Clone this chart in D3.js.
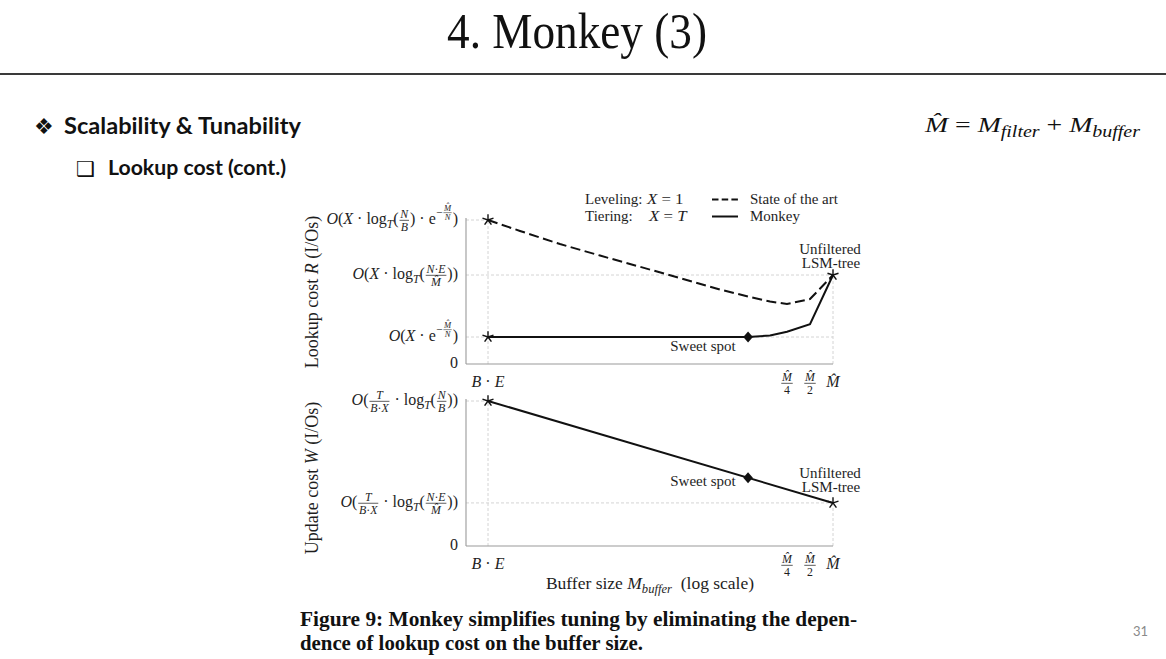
<!DOCTYPE html>
<html><head><meta charset="utf-8">
<script src="https://cdn.jsdelivr.net/npm/d3@7/dist/d3.min.js"></script>
<style>
html,body{margin:0;padding:0;background:#fff;}
svg{display:block;}
text{white-space:pre;}
</style></head><body>
<svg id="c" width="1166" height="659"></svg>
<script>
// ---------------- math token helpers ----------------
const R = s => ({k:'t', s, it:false});
const I = s => ({k:'t', s, it:true});
const sub = (...c) => ({k:'sub', c});
const sup = (...c) => ({k:'sup', c});
const frac = (n, d) => ({k:'frac', n, d});
const MH = "M\u0302";

// ---------------- data ----------------
const BE = Math.pow(2, -15);                       // buffer size B·E as fraction of M̂
const xTickValues = [BE, 0.25, 0.5, 1];
const xTickLabels = [
  [I("B"), R(" · "), I("E")],
  [frac([I(MH)], [R("4")])],
  [frac([I(MH)], [R("2")])],
  [I(MH)]
];

const lookupTickValues = [0, 0.1875, 0.618, 1];
const lookupTickLabels = [
  [R("0")],
  [I("O"), R("("), I("X"), R(" · e"), sup(R("−"), frac([I(MH)], [I("N")])), R(")")],
  [I("O"), R("("), I("X"), R(" · log"), sub(I("T")), R("("), frac([I("N"), R("·"), I("E")], [I(MH)]), R("))")],
  [I("O"), R("("), I("X"), R(" · log"), sub(I("T")), R("("), frac([I("N")], [I("B")]), R(") · e"), sup(R("−"), frac([I(MH)], [I("N")])), R(")")]
];

const updateTickValues = [0, 0.297, 1];
const updateTickLabels = [
  [R("0")],
  [I("O"), R("("), frac([I("T")], [I("B"), R("·"), I("X")]), R(" · log"), sub(I("T")), R("("), frac([I("N"), R("·"), I("E")], [I(MH)]), R("))")],
  [I("O"), R("("), frac([I("T")], [I("B"), R("·"), I("X")]), R(" · log"), sub(I("T")), R("("), frac([I("N")], [I("B")]), R("))")]
];

// State of the art lookup cost (dashed)
const stateBuffer = [BE, 8.0e-5, 2.67e-4, 8.92e-4, 2.98e-3, 9.96e-3, 0.0333, 0.082, 0.15, 0.25, 0.5, 1];
const stateLookup = [1.000, 0.924, 0.833, 0.753, 0.675, 0.597, 0.517, 0.465, 0.434, 0.417, 0.451, 0.618];
// Monkey lookup cost (solid)
const monkeyBuffer = [BE, 0.01, 0.0773, 0.15, 0.25, 0.5, 1];
const monkeyLookup = [0.1875, 0.1875, 0.1875, 0.198, 0.224, 0.276, 0.618];
// Update cost (solid)
const updateBuffer = [BE, 1];
const updateCost = [1, 0.297];
// Sweet spot
const sweetBuffer = 0.0773;
const sweetLookup = 0.1875;
const sweetUpdate = 0.47;
// Star markers
const lookupStars = [[BE, 1], [BE, 0.1875], [1, 0.618]];
const updateStars = [[BE, 1], [1, 0.297]];

const legendItems = [
  {name: "State of the art", dash: true},
  {name: "Monkey", dash: false}
];
const legendNotes = [
  {word: "Leveling:", math: [I("X"), R(" = 1")]},
  {word: "Tiering:", math: [I("X"), R(" = "), I("T")]}
];

// ---------------- rendering ----------------
const svg = d3.select('#c');
const SERIF = "'Liberation Serif','Times New Roman',serif";
const SANS = "Lato,'Open Sans','Noto Sans',sans-serif";
const INK = "#1e1e1e";

function render(g, toks, x, base, size) {
  const x0 = x;
  toks.forEach(tok => {
    if (tok.k === 't') {
      const t = g.append('text').attr('x', x).attr('y', base).attr('font-size', size)
        .attr('font-style', tok.it ? 'italic' : 'normal').text(tok.s);
      x += t.node().getComputedTextLength();
    } else if (tok.k === 'sub') {
      x += render(g, tok.c, x, base + 0.24 * size, size * 0.72);
    } else if (tok.k === 'sup') {
      const hasFrac = tok.c.some(c => c.k === 'frac');
      x += render(g, tok.c, x + 0.03 * size, base - (hasFrac ? 0.55 : 0.38) * size, size * 0.72) + 0.05 * size;
    } else if (tok.k === 'frac') {
      const s2 = size * 0.74;
      const gn = g.append('g'), gd = g.append('g');
      const wn = render(gn, tok.n, 0, base - 0.41 * size, s2);
      const wd = render(gd, tok.d, 0, base + 0.39 * size, s2);
      const fw = Math.max(wn, wd) + 0.22 * size;
      gn.attr('transform', `translate(${x + (fw - wn) / 2},0)`);
      gd.attr('transform', `translate(${x + (fw - wd) / 2},0)`);
      g.append('line').attr('x1', x + 0.06 * size).attr('x2', x + fw - 0.06 * size)
        .attr('y1', base - 0.25 * size).attr('y2', base - 0.25 * size)
        .attr('stroke', INK).attr('stroke-width', Math.max(0.5, 0.045 * size));
      x += fw;
    }
  });
  return x - x0;
}

function mathLabel(toks, size, px, py, align, opts = {}) {
  const outer = svg.append('g').attr('font-family', opts.family || SERIF).attr('fill', opts.fill || INK);
  const inner = outer.append('g');
  const w = render(inner, toks, 0, 0, size);
  const sx = opts.width ? opts.width / w : (opts.sx || 1);
  const ww = w * sx;
  let tx = px;
  if (align === 'end') tx = px - ww;
  else if (align === 'middle') tx = px - ww / 2;
  if (opts.rotate) {
    outer.attr('transform', `translate(${px},${py}) rotate(-90) translate(${-w / 2},0)`);
  } else {
    outer.attr('transform', `translate(${tx},${py}) scale(${sx},1)`);
  }
  return outer;
}

// ---------- slide chrome ----------
{
  const g = svg.append('g').attr('transform', 'translate(577,48)');
  const t = g.append('text').attr('font-family', SERIF).attr('font-size', 51).attr('fill', '#111')
    .attr('text-anchor', 'middle').text("4. Monkey (3)");
  const w = t.node().getComputedTextLength();
  g.attr('transform', `translate(577,48) scale(${260 / w},1)`);
}
svg.append('line').attr('x1', 0).attr('x2', 1166).attr('y1', 74).attr('y2', 74)
  .attr('stroke', '#3a3a3a').attr('stroke-width', 2.2);

svg.append('text').attr('x', 34).attr('y', 134).attr('font-family', "'DejaVu Sans'")
  .attr('font-size', 22).attr('fill', '#111').text("❖");
svg.append('text').attr('x', 64).attr('y', 134).attr('font-family', SANS).attr('font-weight', 'bold')
  .attr('font-size', 22).attr('fill', '#111').attr('textLength', 237).attr('lengthAdjust', 'spacingAndGlyphs')
  .text("Scalability & Tunability");
svg.append('text').attr('x', 76).attr('y', 176).attr('font-family', "'DejaVu Sans'")
  .attr('font-size', 21).attr('fill', '#111').text("❑");
svg.append('text').attr('x', 108).attr('y', 175).attr('font-family', SANS).attr('font-weight', 'bold')
  .attr('font-size', 21).attr('fill', '#111').attr('textLength', 178).attr('lengthAdjust', 'spacingAndGlyphs')
  .text("Lookup cost (cont.)");

mathLabel([I(MH), R(" = "), I("M"), sub(I("filter")), R(" + "), I("M"), sub(I("buffer"))],
  22, 925, 132, 'start', {width: 215, fill: '#111'});

svg.append('text').attr('x', 1133).attr('y', 636).attr('font-family', SANS).attr('font-size', 13)
  .attr('fill', '#8a8a8a').text("31");

svg.append('text').attr('x', 300).attr('y', 626).attr('font-family', SERIF).attr('font-weight', 'bold')
  .attr('font-size', 22).attr('fill', '#111').attr('textLength', 557).attr('lengthAdjust', 'spacingAndGlyphs')
  .text("Figure 9: Monkey simplifies tuning by eliminating the depen-");
svg.append('text').attr('x', 300).attr('y', 650).attr('font-family', SERIF).attr('font-weight', 'bold')
  .attr('font-size', 22).attr('fill', '#111').attr('textLength', 343).attr('lengthAdjust', 'spacingAndGlyphs')
  .text("dence of lookup cost on the buffer size.");

// ---------- chart ----------
const x = d3.scaleLog().domain([BE, 1]).range([488, 833]);
const yL = d3.scaleLinear().domain([0, 1]).range([364, 220]);
const yU = d3.scaleLinear().domain([0, 1]).range([546, 401]);
const axisX = x.range()[0] - 22;

const GRID = '#cfcfcf';
function seg(x1, y1, x2, y2, color, w, dash) {
  const l = svg.append('line').attr('x1', x1).attr('y1', y1).attr('x2', x2).attr('y2', y2)
    .attr('stroke', color).attr('stroke-width', w);
  if (dash) l.attr('stroke-dasharray', dash);
  return l;
}

function panel(y, guidesH, guidesV) {
  guidesH.forEach(([v, xe]) => seg(axisX, y(v), x(xe), y(v), GRID, 0.9, '3,2'));
  guidesV.forEach(([xv, v]) => seg(x(xv), y(0), x(xv), y(v), GRID, 0.9, '3,2'));
  seg(axisX, y(0), x(1), y(0), '#9a9a9a', 1.1);
  seg(axisX, y(0), axisX, y(1) - 2, '#9a9a9a', 1.1);
}

panel(yL, [[1, BE], [0.618, 1], [0.1875, 1]], [[BE, 1], [1, 0.618]]);
panel(yU, [[1, BE], [0.297, 1]], [[BE, 1], [1, 0.297]]);

const lineL = d3.line().x(d => x(d[0])).y(d => yL(d[1]));
const lineU = d3.line().x(d => x(d[0])).y(d => yU(d[1]));

svg.append('path').attr('d', lineL(d3.zip(stateBuffer, stateLookup)))
  .attr('fill', 'none').attr('stroke', '#111').attr('stroke-width', 2).attr('stroke-dasharray', '10,4.5');
svg.append('path').attr('d', lineL(d3.zip(monkeyBuffer, monkeyLookup)))
  .attr('fill', 'none').attr('stroke', '#111').attr('stroke-width', 2);
svg.append('path').attr('d', lineU(d3.zip(updateBuffer, updateCost)))
  .attr('fill', 'none').attr('stroke', '#111').attr('stroke-width', 2);

function star(cx, cy) {
  const r = 5.8;
  for (let k = 0; k < 5; k++) {
    const a = -Math.PI / 2 + k * 2 * Math.PI / 5;
    seg(cx, cy, cx + r * Math.cos(a), cy + r * Math.sin(a), '#111', 1.4);
  }
}
function diamond(cx, cy) {
  svg.append('path').attr('d', `M${cx},${cy - 5.5}L${cx + 4.8},${cy}L${cx},${cy + 5.5}L${cx - 4.8},${cy}Z`)
    .attr('fill', '#111');
}
lookupStars.forEach(d => star(x(d[0]), yL(d[1])));
updateStars.forEach(d => star(x(d[0]), yU(d[1])));
diamond(x(sweetBuffer), yL(sweetLookup));
diamond(x(sweetBuffer), yU(sweetUpdate));

// tick labels
const TS = 16;
lookupTickValues.forEach((v, i) => mathLabel(lookupTickLabels[i], TS, 458, yL(v) + 0.27 * TS, 'end'));
updateTickValues.forEach((v, i) => mathLabel(updateTickLabels[i], TS, 458, yU(v) + 0.27 * TS, 'end'));
[yL, yU].forEach(y => {
  xTickValues.forEach((v, i) => {
    const base = y(0) + 19 + 0.27 * TS;
    mathLabel(xTickLabels[i], TS, x(v), base, 'middle');
  });
});

// axis titles
mathLabel([R("Lookup cost "), I("R"), R(" (I/Os)")], 18, 318, 292, 'middle', {rotate: true});
mathLabel([R("Update cost "), I("W"), R(" (I/Os)")], 18, 318, 478, 'middle', {rotate: true});
mathLabel([R("Buffer size "), I("M"), sub(I("buffer")), R("  (log scale)")], 17.5, 650, 589, 'middle');

// annotations
function note(txt, cx, by) {
  svg.append('text').attr('x', cx).attr('y', by).attr('font-family', SERIF).attr('font-size', 15)
    .attr('fill', INK).attr('text-anchor', 'middle').text(txt);
}
note("Unfiltered", 830, 254); note("LSM-tree", 831, 268);
note("Unfiltered", 830, 478); note("LSM-tree", 831, 492);
note("Sweet spot", 703, 351); note("Sweet spot", 703, 485.5);

// legend
legendNotes.forEach((d, i) => {
  const by = 203.5 + i * 17;
  svg.append('text').attr('x', 585).attr('y', by).attr('font-family', SERIF).attr('font-size', 15)
    .attr('fill', INK).text(d.word);
  mathLabel(d.math, 15, 647 + i * 2, by, 'start', {sx: 1.12});
});
legendItems.forEach((d, i) => {
  const ly = 199.5 + i * 17;
  const l = seg(712, ly, 738, ly, '#111', 2);
  if (d.dash) l.attr('stroke-dasharray', '6.5,3.2');
  svg.append('text').attr('x', 750).attr('y', ly + 4).attr('font-family', SERIF).attr('font-size', 15)
    .attr('fill', INK).text(d.name);
});
</script>
</body></html>
